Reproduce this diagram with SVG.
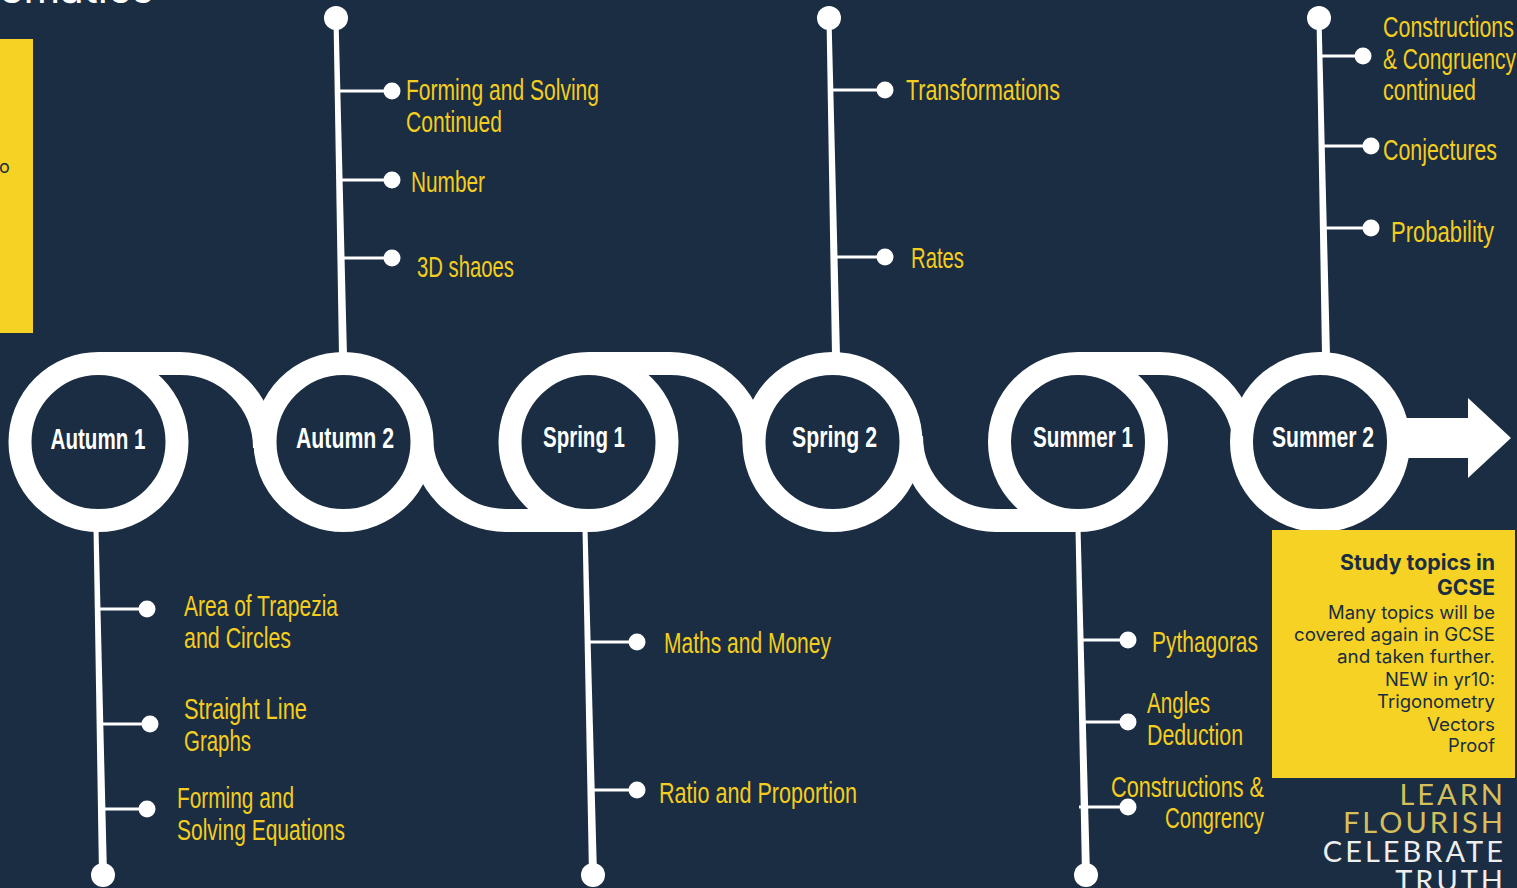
<svg xmlns="http://www.w3.org/2000/svg" width="1517" height="888" viewBox="0 0 1517 888">
<style>
.bg{fill:#1a2d42}
.road{fill:none;stroke:#ffffff;stroke-width:23}
.ring{fill:#1a2d42;stroke:#ffffff;stroke-width:23}
.stem{fill:#ffffff}
.br{stroke:#ffffff;stroke-width:3}
.dot{fill:#ffffff}
.lbl{font-family:"Liberation Sans",Arial,sans-serif;font-size:29px;fill:#f4cd1e}
.nl{font-family:"Liberation Sans",Arial,sans-serif;font-size:29px;font-weight:bold;fill:#ffffff;text-anchor:middle}
.box{fill:#f5d223}
.bt{font-family:Inter,"Liberation Sans",sans-serif;fill:#1a2d42;text-anchor:end;font-size:18px}
.bb{font-family:Inter,"Liberation Sans",sans-serif;fill:#1a2d42;text-anchor:end;font-size:21px;font-weight:bold}
.logo{font-family:Lato,"Liberation Sans",sans-serif;font-size:29px;letter-spacing:3px;text-anchor:end}
</style>
<rect class="bg" x="0" y="0" width="1517" height="888"/>
<text x="154" y="3" font-family="Inter, 'Liberation Sans', sans-serif" font-size="42" fill="#ffffff" text-anchor="end">Mathematics</text>
<g id="intro-box">
<rect class="box" x="0" y="39" width="33" height="294"/>
<text x="-1" y="173" font-family="Inter, 'Liberation Sans', sans-serif" font-size="18" fill="#1a2d42">o</text>
</g>
<g id="connectors">
<path class="road" d="M98,363.5 H180 A84.5,84.5 0 0 1 264.5,448"/>
<path class="road" d="M421.5,436 A84.5,84.5 0 0 0 506,520.5 H588"/>
<path class="road" d="M588,363.5 H670 A84.5,84.5 0 0 1 754.5,448"/>
<path class="road" d="M911.5,436 A84.5,84.5 0 0 0 996,520.5 H1078"/>
<path class="road" d="M1078,363.5 H1160 A84.5,84.5 0 0 1 1244.5,448"/>
<polygon class="stem" points="1395,418 1468,418 1468,398 1511,438 1468,478 1468,458 1395,458"/>
<polygon class="stem" points="333.5,18 338.5,18 347,356 339,356"/>
<polygon class="stem" points="826.5,18 831.5,18 840,356 832,356"/>
<polygon class="stem" points="1316.5,18 1321.5,18 1330,356 1322,356"/>
<polygon class="stem" points="93.5,528 98.5,528 107,875 99,875"/>
<polygon class="stem" points="582.5,528 587.5,528 597,875 589,875"/>
<polygon class="stem" points="1075.5,528 1080.5,528 1090,875 1082,875"/>
<circle class="dot" cx="336" cy="18" r="12"/>
<circle class="dot" cx="829" cy="18" r="12"/>
<circle class="dot" cx="1319" cy="18" r="12"/>
<circle class="dot" cx="103" cy="875" r="12"/>
<circle class="dot" cx="593" cy="875" r="12"/>
<circle class="dot" cx="1086" cy="875" r="12"/>
<line class="br" x1="340" y1="91" x2="392" y2="91"/><circle class="dot" cx="392" cy="91" r="8.5"/>
<line class="br" x1="341" y1="180" x2="392" y2="180"/><circle class="dot" cx="392" cy="180" r="8.5"/>
<line class="br" x1="342" y1="258" x2="392" y2="258"/><circle class="dot" cx="392" cy="258" r="8.5"/>
<line class="br" x1="833" y1="90" x2="885" y2="90"/><circle class="dot" cx="885" cy="90" r="8.5"/>
<line class="br" x1="835" y1="257" x2="885" y2="257"/><circle class="dot" cx="885" cy="257" r="8.5"/>
<line class="br" x1="1320" y1="56" x2="1363" y2="56"/><circle class="dot" cx="1363" cy="56" r="8.5"/>
<line class="br" x1="1322" y1="146" x2="1371" y2="146"/><circle class="dot" cx="1371" cy="146" r="8.5"/>
<line class="br" x1="1324" y1="228" x2="1371" y2="228"/><circle class="dot" cx="1371" cy="228" r="8.5"/>
<line class="br" x1="100" y1="609" x2="147" y2="609"/><circle class="dot" cx="147" cy="609" r="8.5"/>
<line class="br" x1="101" y1="724" x2="150" y2="724"/><circle class="dot" cx="150" cy="724" r="8.5"/>
<line class="br" x1="102" y1="809" x2="147" y2="809"/><circle class="dot" cx="147" cy="809" r="8.5"/>
<line class="br" x1="589" y1="642" x2="637" y2="642"/><circle class="dot" cx="637" cy="642" r="8.5"/>
<line class="br" x1="591" y1="790" x2="637" y2="790"/><circle class="dot" cx="637" cy="790" r="8.5"/>
<line class="br" x1="1082" y1="640" x2="1128" y2="640"/><circle class="dot" cx="1128" cy="640" r="8.5"/>
<line class="br" x1="1083" y1="722" x2="1128" y2="722"/><circle class="dot" cx="1128" cy="722" r="8.5"/>
<line class="br" x1="1079" y1="807" x2="1128" y2="807"/><circle class="dot" cx="1128" cy="807" r="8.5"/>
</g>
<g id="autumn1"><circle class="ring" cx="98.5" cy="442" r="78.5"/><text class="nl" x="98" y="449" textLength="95" lengthAdjust="spacingAndGlyphs">Autumn 1</text></g>
<g id="autumn2"><circle class="ring" cx="343.5" cy="442" r="78.5"/><text class="nl" x="345" y="448" textLength="98" lengthAdjust="spacingAndGlyphs">Autumn 2</text></g>
<g id="spring1"><circle class="ring" cx="588.5" cy="442" r="78.5"/><text class="nl" x="584" y="447" textLength="82" lengthAdjust="spacingAndGlyphs">Spring 1</text></g>
<g id="spring2"><circle class="ring" cx="832.5" cy="442" r="78.5"/><text class="nl" x="834.5" y="447" textLength="85" lengthAdjust="spacingAndGlyphs">Spring 2</text></g>
<g id="summer1"><circle class="ring" cx="1078" cy="442" r="78.5"/><text class="nl" x="1083" y="447" textLength="100" lengthAdjust="spacingAndGlyphs">Summer 1</text></g>
<g id="summer2"><circle class="ring" cx="1320" cy="442" r="78.5"/><text class="nl" x="1323" y="447" textLength="102" lengthAdjust="spacingAndGlyphs">Summer 2</text></g>
<g id="autumn2-topics">
<text class="lbl" x="406" y="100" textLength="193" lengthAdjust="spacingAndGlyphs">Forming and Solving</text>
<text class="lbl" x="406" y="132" textLength="96" lengthAdjust="spacingAndGlyphs">Continued</text>
<text class="lbl" x="411" y="192" textLength="74" lengthAdjust="spacingAndGlyphs">Number</text>
<text class="lbl" x="417" y="277" textLength="97" lengthAdjust="spacingAndGlyphs">3D shaoes</text>
</g>
<g id="spring2-topics">
<text class="lbl" x="906" y="100" textLength="154" lengthAdjust="spacingAndGlyphs">Transformations</text>
<text class="lbl" x="911" y="268" textLength="53" lengthAdjust="spacingAndGlyphs">Rates</text>
</g>
<g id="summer2-topics">
<text class="lbl" x="1383" y="37" textLength="131" lengthAdjust="spacingAndGlyphs">Constructions</text>
<text class="lbl" x="1383" y="69" textLength="133" lengthAdjust="spacingAndGlyphs">&amp; Congruency</text>
<text class="lbl" x="1383" y="100" textLength="93" lengthAdjust="spacingAndGlyphs">continued</text>
<text class="lbl" x="1383" y="160" textLength="114" lengthAdjust="spacingAndGlyphs">Conjectures</text>
<text class="lbl" x="1391" y="242" textLength="103" lengthAdjust="spacingAndGlyphs">Probability</text>
</g>
<g id="autumn1-topics">
<text class="lbl" x="184" y="616" textLength="154" lengthAdjust="spacingAndGlyphs">Area of Trapezia</text>
<text class="lbl" x="184" y="648" textLength="107" lengthAdjust="spacingAndGlyphs">and Circles</text>
<text class="lbl" x="184" y="719" textLength="123" lengthAdjust="spacingAndGlyphs">Straight Line</text>
<text class="lbl" x="184" y="751" textLength="67" lengthAdjust="spacingAndGlyphs">Graphs</text>
<text class="lbl" x="177" y="808" textLength="117" lengthAdjust="spacingAndGlyphs">Forming and</text>
<text class="lbl" x="177" y="840" textLength="168" lengthAdjust="spacingAndGlyphs">Solving Equations</text>
</g>
<g id="spring1-topics">
<text class="lbl" x="664" y="653" textLength="167" lengthAdjust="spacingAndGlyphs">Maths and Money</text>
<text class="lbl" x="659" y="803" textLength="198" lengthAdjust="spacingAndGlyphs">Ratio and Proportion</text>
</g>
<g id="summer1-topics">
<text class="lbl" x="1152" y="652" textLength="106" lengthAdjust="spacingAndGlyphs">Pythagoras</text>
<text class="lbl" x="1147" y="713" textLength="63" lengthAdjust="spacingAndGlyphs">Angles</text>
<text class="lbl" x="1147" y="745" textLength="96" lengthAdjust="spacingAndGlyphs">Deduction</text>
<text class="lbl" x="1264" y="797" text-anchor="end" textLength="153" lengthAdjust="spacingAndGlyphs">Constructions &amp;</text>
<text class="lbl" x="1264" y="828" text-anchor="end" textLength="99" lengthAdjust="spacingAndGlyphs">Congrency</text>
</g>
<g id="gcse-box">
<rect class="box" x="1272" y="530" width="243" height="248"/>
<text class="bb" x="1495" y="570" textLength="155" lengthAdjust="spacingAndGlyphs">Study topics in</text>
<text class="bb" x="1495" y="595" textLength="58" lengthAdjust="spacingAndGlyphs">GCSE</text>
<text class="bt" x="1495" y="619" textLength="167" lengthAdjust="spacingAndGlyphs">Many topics will be</text>
<text class="bt" x="1495" y="641" textLength="201" lengthAdjust="spacingAndGlyphs">covered again in GCSE</text>
<text class="bt" x="1495" y="663" textLength="158" lengthAdjust="spacingAndGlyphs">and taken further.</text>
<text class="bt" x="1495" y="686" textLength="110" lengthAdjust="spacingAndGlyphs">NEW in yr10:</text>
<text class="bt" x="1495" y="708" textLength="118" lengthAdjust="spacingAndGlyphs">Trigonometry</text>
<text class="bt" x="1495" y="731" textLength="68" lengthAdjust="spacingAndGlyphs">Vectors</text>
<text class="bt" x="1495" y="752" textLength="47" lengthAdjust="spacingAndGlyphs">Proof</text>
</g>
<g id="logo">
<text class="logo" x="1506" y="805" fill="#d6bf5a">LEARN</text>
<text class="logo" x="1506" y="833" fill="#d6bf5a">FLOURISH</text>
<text class="logo" x="1506" y="862" fill="#eeeeee">CELEBRATE</text>
<text class="logo" x="1506" y="891" fill="#eeeeee">TRUTH</text>
</g>
</svg>
